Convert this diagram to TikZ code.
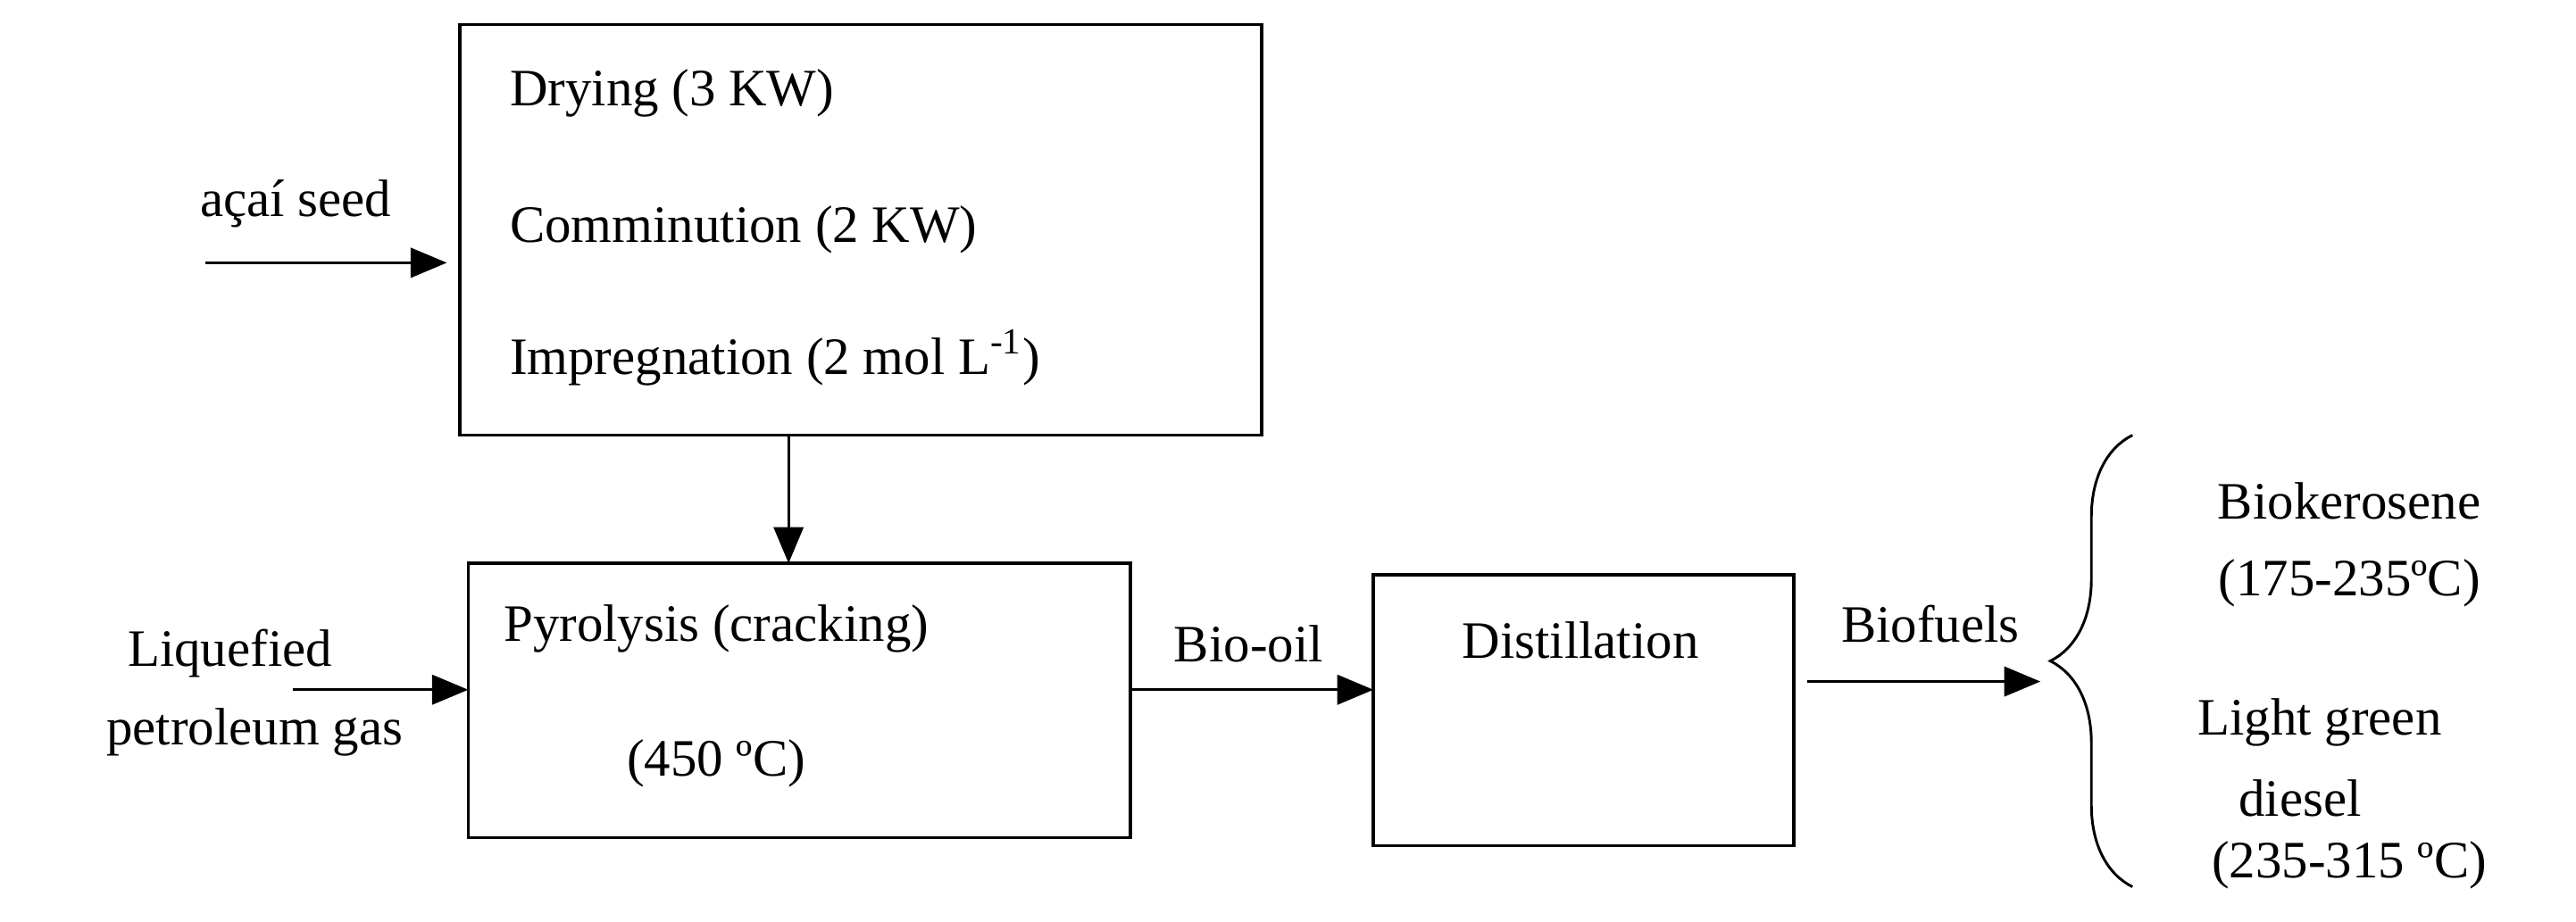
\documentclass[tikz,border=0pt]{standalone}
\usepackage{fontspec}
\setmainfont{Liberation Serif}
\usetikzlibrary{arrows.meta,decorations.pathreplacing}
\begin{document}
\begin{tikzpicture}[x=0.5pt,y=-0.5pt,
  box/.style={draw,line width=1pt},
  arr/.style={-{Triangle[length=11pt,width=9pt]},line width=0.9pt},
  t/.style={font=\fontsize{16}{18}\selectfont,inner sep=0pt}]
\useasboundingbox (0,0) rectangle (1568,561);
\draw[box] (280,15) rectangle (768,265);
\node[t,anchor=west] (d1) at (310,57) {Drying (3 KW)};
\node[t,anchor=west] (d2) at (310,140) {Comminution (2 KW)};
\node[t,anchor=west] (d3) at (310,218) {Impregnation (2 mol L\textsuperscript{-1})};
\draw[box] (285,343) rectangle (688,510);
\node[t] (p1) at (436,383) {Pyrolysis (cracking)};
\node[t] (p2) at (436,465) {(450 ºC)};
\draw[box] (836,350) rectangle (1092,515);
\node[t] (ds) at (962,390) {Distillation};
\coordinate (a0) at (125,160); \coordinate (a1) at (272,160);
\draw[arr] (a0) -- (a1);
\node[t] (seed) at (180,124) {açaí seed};
\coordinate (c0) at (480,265); \coordinate (c1) at (480,343);
\draw[arr] (c0) -- (c1);
\coordinate (l0) at (178,420); \coordinate (l1) at (285,420);
\draw[arr] (l0) -- (l1);
\node[t] (lpg1) at (140,398) {Liquefied};
\node[t] (lpg2) at (155,446) {petroleum gas};
\coordinate (o0) at (688,420); \coordinate (o1) at (836,420);
\draw[arr] (o0) -- (o1);
\node[t] (bo) at (760,392) {Bio-oil};
\coordinate (f0) at (1100,415); \coordinate (f1) at (1242,415);
\draw[arr] (f0) -- (f1);
\node[t] (bf) at (1175,380) {Biofuels};
\draw[line width=0.8pt,decorate,decoration={brace,amplitude=25pt}] (1298,540) -- (1298,265);
\node[t] (k1) at (1430,305) {Biokerosene};
\node[t] (k2) at (1430,355) {(175-235ºC)};
\node[t] (g1) at (1412,440) {Light green};
\node[t] (g2) at (1400,486) {diesel};
\node[t] (g3) at (1430,527) {(235-315 ºC)};
\end{tikzpicture}
\end{document}
